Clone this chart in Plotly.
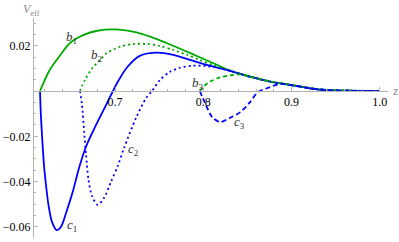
import plotly.graph_objects as go

# ---- data ----
b1_z = [0.615, 0.626, 0.638, 0.649, 0.664, 0.680, 0.700, 0.720, 0.740, 0.759, 0.777, 0.796, 0.816, 0.830, 0.853, 0.876, 0.898, 0.921, 0.940, 0.966, 1.000]
b1_v = [0.0, 0.0093, 0.0159, 0.0212, 0.0247, 0.0266, 0.0272, 0.0262, 0.0240, 0.0211, 0.0181, 0.0149, 0.0115, 0.0090, 0.0063, 0.0041, 0.0027, 0.0012, 0.0004, 0.0001, 0.0]

b2_z = [0.660, 0.666, 0.674, 0.683, 0.691, 0.706, 0.720, 0.736, 0.751, 0.766, 0.782, 0.796, 0.811, 0.830, 0.853, 0.876, 0.898, 0.921, 0.940, 0.966, 1.000]
b2_v = [0.0, 0.0049, 0.0100, 0.0137, 0.0168, 0.0196, 0.0207, 0.0208, 0.0199, 0.0181, 0.0159, 0.0137, 0.0115, 0.0091, 0.0064, 0.0042, 0.0028, 0.0013, 0.0005, 0.0001, 0.0]

b3_z = [0.796, 0.801, 0.808, 0.819, 0.830, 0.842, 0.853, 0.876, 0.898, 0.921, 0.940, 0.966, 1.000]
b3_v = [0.0, 0.0022, 0.0042, 0.0060, 0.0069, 0.0073, 0.0064, 0.0042, 0.0028, 0.0013, 0.0005, 0.0001, 0.0]

c1_z = [0.615, 0.616, 0.6176, 0.6195, 0.6218, 0.6246, 0.6286, 0.6339, 0.6388, 0.6445, 0.6521, 0.6592, 0.6671, 0.6785, 0.6898, 0.6977,
        0.703, 0.714, 0.728, 0.748, 0.766, 0.785, 0.804, 0.817, 0.830, 0.853, 0.876, 0.898, 0.921, 0.940, 0.966, 1.000]
c1_v = [0.0, -0.0106, -0.0216, -0.0327, -0.0415, -0.0503, -0.0578, -0.0614, -0.0599, -0.0539, -0.0445, -0.0340, -0.0246, -0.0150, -0.0062, 0.0,
        0.0040, 0.0106, 0.0155, 0.0169, 0.0159, 0.0137, 0.0115, 0.0102, 0.0090, 0.0063, 0.0041, 0.0027, 0.0012, 0.0004, 0.0001, 0.0]

c2_z = [0.6603, 0.6626, 0.6654, 0.6671, 0.6700, 0.6739, 0.6804, 0.6875, 0.6955, 0.7031, 0.7102, 0.7238, 0.7351, 0.7419, 0.7510, 0.7623,
        0.7737, 0.7884, 0.8042, 0.8190, 0.8416, 0.853, 0.876, 0.898, 0.921, 0.940, 0.966, 1.000]
c2_v = [0.0, -0.0062, -0.0199, -0.0278, -0.0393, -0.0464, -0.0503, -0.0472, -0.0400, -0.0331, -0.0252, -0.0119, -0.0032, 0.0, 0.0049, 0.0085,
        0.0103, 0.0112, 0.0110, 0.0100, 0.0075, 0.0063, 0.0041, 0.0027, 0.0012, 0.0004, 0.0001, 0.0]

c3_z = [0.796, 0.802, 0.810, 0.819, 0.830, 0.842, 0.853, 0.862, 0.872, 0.887, 0.898, 0.921, 0.940, 0.966, 1.000]
c3_v = [0.0, -0.0053, -0.0115, -0.0137, -0.0119, -0.0093, -0.0049, -0.0004, 0.0012, 0.0031, 0.0027, 0.0012, 0.0004, 0.0001, 0.0]

x_tickvals = [0.7, 0.8, 0.9, 1.0]
x_ticktext = ["0.7", "0.8", "0.9", "1.0"]
y_tickvals = [-0.06, -0.04, -0.02, 0.02]
y_ticktext = ["\u22120.06", "\u22120.04", "\u22120.02", "0.02"]

curve_labels = ["<i>b</i><sub>1</sub>", "<i>b</i><sub>2</sub>", "<i>b</i><sub>3</sub>",
                "<i>c</i><sub>1</sub>", "<i>c</i><sub>2</sub>", "<i>c</i><sub>3</sub>"]
label_z = [0.651, 0.6796, 0.794, 0.6513, 0.7204, 0.8405]
label_v = [0.0238, 0.0155, 0.0035, -0.0592, -0.0260, -0.0141]

x_range = [0.6082, 1.0093]
y_range = [-0.0649, 0.03223]

GREEN = "#00aa00"
BLUE = "#0000ff"
AXIS = "#b3b3b3"
FONT = "Liberation Serif, Times New Roman, Times, serif"

fig = go.Figure()
series = [
    (b1_z, b1_v, GREEN, "solid"),
    (c1_z, c1_v, BLUE, "solid"),
    (b2_z, b2_v, GREEN, "2px,3px"),
    (c2_z, c2_v, BLUE, "2px,3px"),
    (b3_z, b3_v, GREEN, "4px,3px"),
    (c3_z, c3_v, BLUE, "5px,3px"),
]
for z, v, col, dash in series:
    fig.add_trace(go.Scatter(x=z, y=v, mode="lines",
                             line=dict(color=col, width=1.8, dash=dash, shape="spline", smoothing=0.8),
                             hoverinfo="skip", showlegend=False))

for t, zx, vy in zip(curve_labels, label_z, label_v):
    fig.add_annotation(x=zx, y=vy, text=t, showarrow=False,
                       font=dict(family=FONT, size=13, color="#333333"))

x_pos = (0 - y_range[0]) / (y_range[1] - y_range[0])

fig.update_layout(
    width=399, height=242, autosize=False,
    margin=dict(l=34, r=11, t=18, b=4, pad=0, autoexpand=False),
    paper_bgcolor="white", plot_bgcolor="white",
    font=dict(family=FONT, size=12, color="black"),
    xaxis=dict(range=x_range, showgrid=False, zeroline=False,
               showline=True, linecolor=AXIS, linewidth=1,
               anchor="free", position=x_pos,
               tickmode="array", tickvals=x_tickvals, ticktext=x_ticktext,
               ticks="inside", ticklen=4, tickcolor=AXIS, tickwidth=1,
               minor=dict(dtick=0.02, tick0=0.6, ticks="inside", ticklen=2, tickcolor=AXIS, showgrid=False),
               tickfont=dict(family=FONT, size=12, color="black"),
               automargin=False),
    yaxis=dict(range=y_range, showgrid=False, zeroline=False,
               showline=True, linecolor=AXIS, linewidth=1,
               tickmode="array", tickvals=y_tickvals, ticktext=y_ticktext,
               ticks="inside", ticklen=4, tickcolor=AXIS, tickwidth=1,
               minor=dict(dtick=0.005, tick0=0, ticks="inside", ticklen=2, tickcolor=AXIS, showgrid=False),
               tickfont=dict(family=FONT, size=12, color="black"),
               automargin=False),
)

fig.add_annotation(xref="paper", yref="paper", x=0, y=1, xanchor="center", yanchor="middle",
                   xshift=-3, yshift=8, showarrow=False,
                   text="<i>V</i><sub>eff</sub>", font=dict(family=FONT, size=12, color="#888888"))
fig.add_annotation(xref="paper", yref="y", x=1, y=0, xanchor="left", yanchor="middle",
                   xshift=3, showarrow=False,
                   text="z", font=dict(family=FONT, size=12, color="#888888"))

fig.write_html("out.html", config={"displayModeBar": False},
               post_script="document.body.style.margin='0';document.body.style.padding='0';")
